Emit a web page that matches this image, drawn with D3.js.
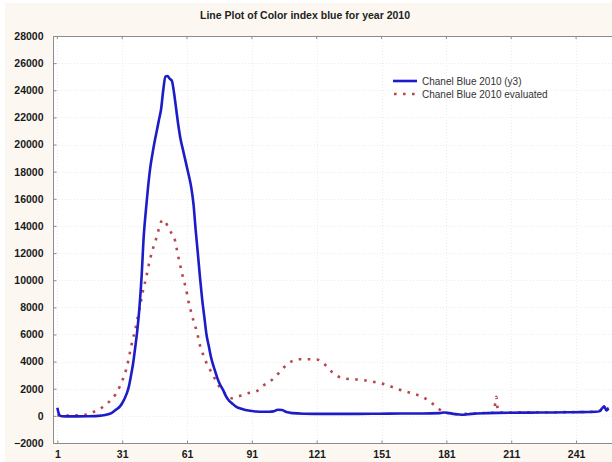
<!DOCTYPE html>
<html>
<head>
<meta charset="utf-8">
<script src="https://cdn.jsdelivr.net/npm/d3@7"></script>
<style>
  html, body { margin: 0; padding: 0; background: #ffffff; }
  svg { display: block; }
  text { font-family: "Liberation Sans", Arial, sans-serif; }
</style>
</head>
<body>
<svg id="chart" width="612" height="462"></svg>
<script>
// ---- data ----
const chartTitle = "Line Plot of Color index blue for year 2010";
const seriesNames = ["Chanel Blue 2010 (y3)", "Chanel Blue 2010 evaluated"];

// Chanel Blue 2010 (y3): sample index and value
const blueX = [1,2,3,5,10,15,20,23,26,28,30,31,33,34,35,36,37,38,39,40,41,42,43,44,45,46,47,48,49,50,51,52,53,54,55,56,57,58,59,60,61,62,63,64,65,66,67,68,69,70,71,72,73,74,75,76,77,78,79,80,82,84,86,88,90,93,96,99,101,103,105,107,110,115,120,130,140,150,160,170,178,180,185,188,191,195,200,205,210,220,230,240,250,252,253,254,255,256];
const blueY = [600,50,-30,-40,-40,-30,0,60,200,440,700,930,1600,2100,2900,3800,5000,6300,8000,10300,13300,15200,16900,18300,19300,20200,21000,21800,22600,24000,25000,25050,24850,24700,23800,22600,21400,20400,19700,19000,18300,17600,16800,15600,13700,12000,10200,8600,7300,6000,5200,4400,3800,3300,2800,2400,2100,1800,1450,1200,900,650,530,430,380,320,300,300,330,450,430,280,200,160,150,150,150,160,170,170,200,250,130,80,120,180,200,220,230,240,250,270,300,350,550,700,400,550];

// Chanel Blue 2010 evaluated: sample index and value
const redX = [1,5,10,15,17,20,22,24,26,28,30,32,33,34,35,36,37,38,39,40,41,42,43,44,45,46,47,48,49,50,51,52,53,54,55,56,57,58,59,60,61,62,63,64,65,66,67,68,69,70,71,72,73,74,75,76,77,78,79,80,82,84,86,88,90,93,96,99,101,104,106,108,110,113,117,121,123,125,127,129,131,134,138,142,146,150,154,158,162,166,170,173,176,178,180,183,186,190,195,200,203,204,205,210,220,230,240,250,253,254,256];
const redY = [30,20,40,100,250,450,650,900,1200,1600,2200,3000,3500,4200,5000,5700,6300,7100,7900,8700,9500,10100,10900,11600,12200,12700,13200,13800,14300,14450,14300,14000,13700,13400,13200,12500,11700,11000,10300,9700,9000,8200,7600,7000,6500,5900,5200,4700,4300,3900,3600,3300,3000,2700,2400,2150,1950,1750,1550,1400,1300,1400,1500,1620,1700,1800,2200,2500,2750,3250,3600,3900,4050,4170,4170,4150,4000,3750,3400,3100,2900,2750,2700,2650,2550,2420,2250,2000,1800,1620,1400,1100,700,450,250,180,120,150,200,220,250,1400,250,250,260,270,280,300,500,650,500];

const xTickValues = [1,31,61,91,121,151,181,211,241];
const yTickValues = [-2000,0,2000,4000,6000,8000,10000,12000,14000,16000,18000,20000,22000,24000,26000,28000];

// ---- layout ----
const W = 612, H = 462;
const plot = { left: 53, top: 36, right: 615, bottom: 443 };
const blueColor = "#1c1cc8";
const redColor = "#b8464e";

const svg = d3.select("#chart");

// page background (cream panel, small white edge at top/left)
svg.append("rect").attr("x", 0).attr("y", 0).attr("width", W).attr("height", H).attr("fill", "#ffffff");
svg.append("rect").attr("x", 5).attr("y", 3).attr("width", W - 5).attr("height", H - 3).attr("fill", "#fcf8f1");

const x = d3.scaleLinear().domain([-1, 259]).range([plot.left, plot.right]);
const y = d3.scaleLinear().domain([-2000, 28000]).range([plot.bottom, plot.top]);

// plot area
svg.append("rect")
  .attr("x", plot.left).attr("y", plot.top)
  .attr("width", plot.right - plot.left).attr("height", plot.bottom - plot.top)
  .attr("fill", "#ffffff");

// faint grid
const grid = svg.append("g").attr("stroke", "#ececec").attr("stroke-width", 1).attr("stroke-dasharray", "1,2");
grid.selectAll("line.v").data(xTickValues).join("line")
  .attr("x1", d => Math.round(x(d)) + 0.5).attr("x2", d => Math.round(x(d)) + 0.5)
  .attr("y1", plot.top).attr("y2", plot.bottom);
grid.selectAll("line.h").data(yTickValues).join("line")
  .attr("y1", d => Math.round(y(d)) + 0.5).attr("y2", d => Math.round(y(d)) + 0.5)
  .attr("x1", plot.left).attr("x2", plot.right);

// frame
const frameColor = "#8c8c8c";
svg.append("line").attr("x1", plot.left + 0.5).attr("x2", plot.left + 0.5)
  .attr("y1", plot.top).attr("y2", plot.bottom + 0.5).attr("stroke", frameColor);
svg.append("line").attr("x1", plot.left).attr("x2", plot.right)
  .attr("y1", plot.bottom + 0.5).attr("y2", plot.bottom + 0.5).attr("stroke", frameColor);
svg.append("line").attr("x1", plot.left).attr("x2", plot.right)
  .attr("y1", plot.top + 0.5).attr("y2", plot.top + 0.5).attr("stroke", frameColor);

// axes (inward ticks)
const yAxis = d3.axisLeft(y).tickValues(yTickValues).tickSize(-3).tickPadding(10).tickFormat(d3.format("d"));
const gy = svg.append("g").attr("transform", `translate(${plot.left + 0.5},0)`).call(yAxis);
gy.select(".domain").remove();
gy.selectAll(".tick line").attr("stroke", frameColor);
gy.selectAll(".tick text").attr("fill", "#1a1a1a").attr("font-size", 10.5).attr("font-weight", "bold")
  .attr("font-family", "Liberation Sans, Arial, sans-serif");

const xAxis = d3.axisBottom(x).tickValues(xTickValues).tickSize(-3).tickPadding(7).tickFormat(d3.format("d"));
const gx = svg.append("g").attr("transform", `translate(0,${plot.bottom + 0.5})`).call(xAxis);
gx.select(".domain").remove();
gx.selectAll(".tick line").attr("stroke", frameColor);
gx.selectAll(".tick text").attr("fill", "#1a1a1a").attr("font-size", 10.5).attr("font-weight", "bold")
  .attr("font-family", "Liberation Sans, Arial, sans-serif");

// top-border tick marks
svg.append("g").selectAll("line").data(xTickValues).join("line")
  .attr("x1", d => x(d)).attr("x2", d => x(d))
  .attr("y1", plot.top).attr("y2", plot.top + 3).attr("stroke", frameColor);

// series
const clip = svg.append("clipPath").attr("id", "plotClip").append("rect")
  .attr("x", plot.left).attr("y", plot.top).attr("width", plot.right - plot.left).attr("height", plot.bottom - plot.top);

const line = d3.line().x(d => x(d[0])).y(d => y(d[1])).curve(d3.curveMonotoneX);
const blueData = blueX.map((v, i) => [v, blueY[i]]);
const redData = redX.map((v, i) => [v, redY[i]]);

const series = svg.append("g").attr("clip-path", "url(#plotClip)");
series.append("path").datum(redData).attr("d", line)
  .attr("fill", "none").attr("stroke", redColor).attr("stroke-width", 2.6)
  .attr("stroke-dasharray", "2.6,6.4");
series.append("path").datum(blueData).attr("d", line)
  .attr("fill", "none").attr("stroke", blueColor).attr("stroke-width", 2.6)
  .attr("stroke-linejoin", "round");

// title
svg.append("text").attr("x", 305).attr("y", 19).attr("text-anchor", "middle")
  .attr("font-size", 10.5).attr("font-weight", "bold").attr("fill", "#222")
  .text(chartTitle);

// legend
const legend = svg.append("g").attr("transform", "translate(393,81)");
legend.append("line").attr("x1", 0).attr("x2", 24).attr("y1", 0).attr("y2", 0)
  .attr("stroke", blueColor).attr("stroke-width", 2.6);
legend.append("line").attr("x1", 1).attr("x2", 24).attr("y1", 13).attr("y2", 13)
  .attr("stroke", redColor).attr("stroke-width", 2.6).attr("stroke-dasharray", "2.6,6.4");
legend.selectAll("text.lbl").data(seriesNames).join("text")
  .attr("x", 29).attr("y", (d, i) => i * 13 + 3.5)
  .attr("font-size", 10).attr("fill", "#333")
  .text(d => d);
</script>
</body>
</html>
